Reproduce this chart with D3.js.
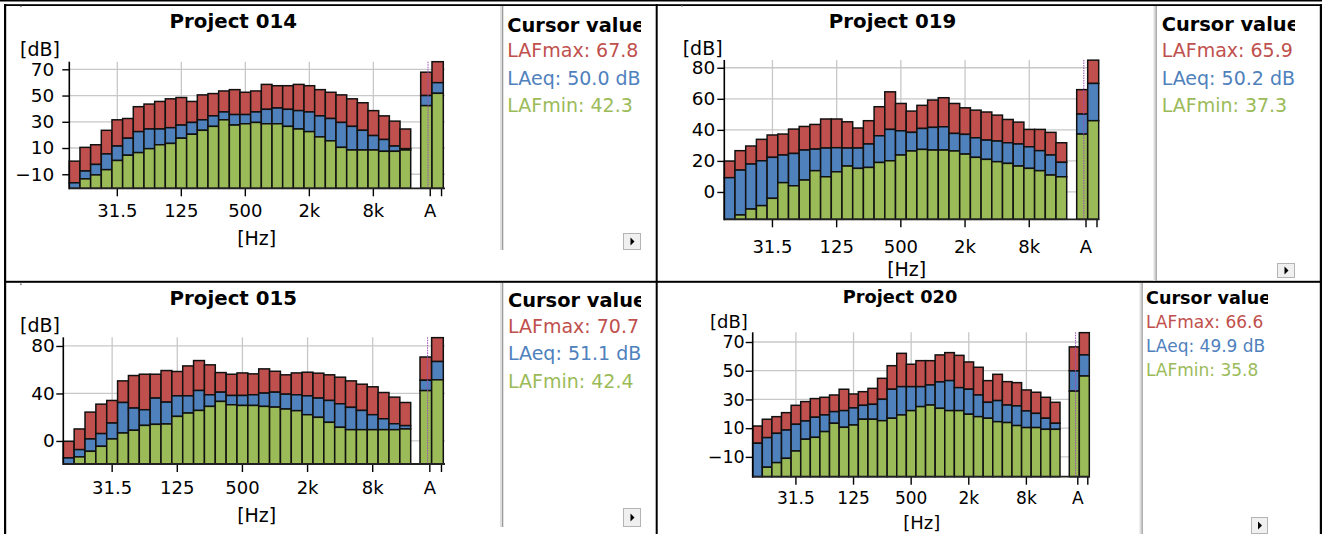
<!DOCTYPE html>
<html><head><meta charset="utf-8">
<script src="https://cdn.jsdelivr.net/npm/d3@7"></script>
<style>
body{margin:0;background:#fff}
svg{display:block}
text{font-family:"DejaVu Sans",Verdana,sans-serif}
</style>
</head><body>
<svg id="c" width="1322" height="534"></svg>
<script>
// ---------- DATA ----------
const bands = ["12.5","16","20","25","31.5","40","50","63","80","100","125","160","200","250","315","400","500","630","800","1k","1.25k","1.6k","2k","2.5k","3.15k","4k","5k","6.3k","8k","10k","12.5k","16k"];
const bandTicks = ["31.5","125","500","2k","8k"];
const totals = ["A","C"];
const totalLabels = ["A",""];

const p014Max = [0,10.5,12.5,23.5,31.5,32.5,41.5,43.5,45.5,47.5,48.5,45.5,50.5,51.5,53.5,54.5,52.5,53.5,58.5,57.5,57.5,58.5,57.5,54.5,52.5,50.5,47.5,44.5,38.5,34.5,30.5,24.5];
const p014Eq  = [-16.5,-7.5,-2.5,5.5,11.5,17.5,22.5,24.5,24.5,25.5,27.5,29.5,31.5,34.5,37.5,35.5,35.5,37.5,39.5,40.5,39.5,38.5,37.5,34.5,32.5,29.5,26.5,23.5,19.5,16.5,11.5,9.5];
const p014Min = [-22,-13.5,-10.5,-6.5,0.5,4.5,6.5,9.5,12.5,13.5,17.5,20.5,23.5,26.5,31.5,27.5,28.5,29.5,28.5,28.5,26.5,24.5,22.5,18.5,15.5,10.5,8.5,8.5,8.5,7.5,7.5,8.5];
const p014TotMax = [67.8,75.8];
const p014TotEq  = [50.0,59.8];
const p014TotMin = [42.3,51.7];

const p019Max = [19.9,26.6,29.6,33.9,36.7,37.3,40.5,42.2,43.5,47,47,45.2,41.2,45.9,54.9,64.5,57,52.1,55.8,59.2,60.7,57,54.2,52.7,51.5,49.5,46.7,45,40.3,40.3,38.4,31.7];
const p019Eq  = [9.2,14.1,18,20.1,22.3,23.8,24.8,27,27.6,28.3,28.5,28.3,28.3,30.9,36.2,40.3,39.4,38.4,40.9,41.6,42,37.7,37.1,34.9,33.4,32.8,31.7,30.9,29.1,26.6,23.8,19.1];
const p019Min = [-18,-14.8,-11,-8.8,-4.1,6,4,7.7,13.7,9.8,13,16.7,15.2,15.8,19,20.1,23.8,26.4,27.4,27,27,26.4,24.4,22.3,21,19.5,18.4,16.7,15.2,13.7,10.9,9.8];
const p019TotMax = [65.9,84.9];
const p019TotEq  = [50.2,69.9];
const p019TotMin = [37.3,45.9];

const p015Max = [-0.3,10.1,24.3,31,34.1,50.6,55.1,56.2,56.2,59.3,58.5,63.2,67.7,64.1,57.6,56.2,57.3,56.5,60.7,58.7,55.7,57.3,57.9,57.1,55.7,53.7,50.6,47.8,45.6,40.8,36.9,32.4];
const p015Eq  = [-14.3,-7.3,1.7,6.2,15.1,32.4,27.7,26.3,36.1,32.7,38,38,42.5,38.9,41.1,38.3,38.3,38.9,40.3,41.1,39.4,38.9,38,36.1,34.1,31.3,28.3,25.7,22.1,18.7,14.5,12.9];
const p015Min = [-20,-13.4,-8.7,-4.5,1.7,6.7,9,13.1,14,14.3,20.7,23.5,25.7,29.1,33.3,30.5,29.9,29.9,29.1,28.5,26.9,25.5,22.1,19.9,15.7,11.5,9.5,9.5,9.5,9.5,9.5,10.1];
const p015TotMax = [70.7,87.0];
const p015TotEq  = [51.1,66.9];
const p015TotMin = [42.4,51.5];

const p020Max = [11.5,16.2,18,20.8,25.9,28.5,30.6,31.5,33.1,37.1,33.8,35.4,37.7,44.7,53.5,62.1,54.5,57,57,61,62.6,60.7,56.1,52.4,43.1,47.5,42.4,41.7,36.6,35,31.5,28];
const p020Eq  = [-0.5,3.4,6.4,8.7,12.7,15,17.6,19.2,21.5,22.2,24.1,25.9,26.6,30.1,37.1,38.9,38.9,38.9,40.1,42.2,43.1,38.2,37.1,33.1,28,29.2,26.1,25.5,22,20.3,16.9,13.4];
const p020Min = [-25,-17.2,-14,-11,-5.9,2.3,3.6,7.6,13.4,10.6,12.2,16.2,16.2,15.2,16.9,19.2,22.2,25,26.1,23.8,22.2,22.2,19.7,18,16.9,14.5,13.9,11.8,10.4,10.4,9.2,9.2];
const p020TotMax = [66.6,76.5];
const p020TotEq  = [49.9,61.0];
const p020TotMin = [35.8,46.3];

const yTicks014 = [-10,10,30,50,70];
const yTicks019 = [0,20,40,60,80];
const yTicks015 = [0,40,80];
const yTicks020 = [-10,10,30,50,70];

// ---------- STYLE ----------
const C_MAX = "#c0504d", C_EQ = "#4f81bd", C_MIN = "#9bbb59";
const svg = d3.select("#c");

// ---------- FRAME ----------
const frame = svg.append("g");
[[0,0,1322,1.5],[4,4.2,1318,1.8],[4,4,2.2,530],[655.7,4,2,530],[4,280.8,1318,2],[1319.8,4,2.2,530]]
  .forEach(r=>frame.append("rect").attr("x",r[0]).attr("y",r[1]).attr("width",r[2]).attr("height",r[3]).attr("fill","#000"));
[[20.3,5.5],[681.3,5],[20.3,283.5]].forEach(p=>frame.append("rect").attr("x",p[0]).attr("y",p[1]).attr("width",1.2).attr("height",1.6).attr("fill","#555"));

// ---------- PANELS ----------
const panels = [
 {title:"Project 014", fs:18, tfs:19.8, cfs:19, cbfs:19.4,
  x0:69.3, x1:410.7, a0:420.7, a1:443.3, gridR:445, yTop:61.7, yBot:188.3, dom:[-20.7,75.8], ticks:yTicks014,
  ylPad:8, xlPad:8.4, titleX:233.3, titleY:27.5, dbX:20, dbY:56, hzX:256.7, hzY:245,
  sepX:500, sepY0:6, sepY1:250, btn:[623,233,18,17],
  cx:507.3, cy:[31.7,57.3,84.5,111.7], clipR:641,
  cur:["Cursor value","LAFmax: 67.8","LAeq: 50.0 dB","LAFmin: 42.3"],
  max:p014Max, eq:p014Eq, min:p014Min, tmax:p014TotMax, teq:p014TotEq, tmin:p014TotMin},
 {title:"Project 019", fs:18, tfs:19.8, cfs:19, cbfs:19.4,
  x0:724.3, x1:1066.7, a0:1076.7, a1:1098.7, gridR:1099.3, yTop:60, yBot:219.3, dom:[-17.6,85], ticks:yTicks019,
  ylPad:2, xlPad:12.9, titleX:892.5, titleY:28.3, dbX:682.7, dbY:54.5, hzX:906.7, hzY:276,
  sepX:1153.5, sepY0:6, sepY1:281, btn:[1277,263,18,15],
  cx:1161.7, cy:[30.7,57.3,85,111.7], clipR:1295,
  cur:["Cursor value","LAFmax: 65.9","LAeq: 50.2 dB","LAFmin: 37.3"],
  max:p019Max, eq:p019Eq, min:p019Min, tmax:p019TotMax, teq:p019TotEq, tmin:p019TotMin},
 {title:"Project 015", fs:18, tfs:19.8, cfs:19, cbfs:19.4,
  x0:63.3, x1:410.7, a0:420, a1:443.3, gridR:445, yTop:337.3, yBot:464, dom:[-19.4,87.3], ticks:yTicks015,
  ylPad:1.5, xlPad:9.7, titleX:233.3, titleY:305, dbX:20, dbY:331.5, hzX:256.7, hzY:522,
  sepX:500, sepY0:283, sepY1:527, btn:[623,508,18,19],
  cx:508, cy:[307,333,360,388], clipR:641,
  cur:["Cursor value","LAFmax: 70.7","LAeq: 51.1 dB","LAFmin: 42.4"],
  max:p015Max, eq:p015Eq, min:p015Min, tmax:p015TotMax, teq:p015TotEq, tmin:p015TotMin},
 {title:"Project 020", fs:17, tfs:17.8, cfs:17, cbfs:17.6,
  x0:752.7, x1:1060, a0:1069.3, a1:1089.3, gridR:1090, yTop:332.3, yBot:476.7, dom:[-23.8,76.75], ticks:yTicks020,
  ylPad:1, xlPad:7.2, titleX:900, titleY:302.7, dbX:710, dbY:328, hzX:921.7, hzY:529,
  sepX:1139.5, sepY0:283, sepY1:534, btn:[1251,517,17,17],
  cx:1146, cy:[304,328,352,376], clipR:1268,
  cur:["Cursor value","LAFmax: 66.6","LAeq: 49.9 dB","LAFmin: 35.8"],
  max:p020Max, eq:p020Eq, min:p020Min, tmax:p020TotMax, teq:p020TotEq, tmin:p020TotMin}
];

panels.forEach((p,pi)=>{
  const g = svg.append("g");
  const y = d3.scaleLinear().domain(p.dom).range([p.yBot, p.yTop]);
  const xb = d3.scaleBand().domain(bands).range([p.x0, p.x1]).padding(0);
  const xt = d3.scaleBand().domain(totals).range([p.a0, p.a1]).padding(0);
  const bw = xt.bandwidth();
  const xtTick = d3.scalePoint().domain(totals).range([p.a0 + 0.8*bw, p.a0 + 1.8*bw]);

  // horizontal grid
  g.append("g").selectAll("line").data(p.ticks).join("line")
    .attr("x1", p.x0).attr("x2", p.gridR).attr("y1", d=>y(d)).attr("y2", d=>y(d))
    .attr("stroke","#c8c8c8").attr("stroke-width",1.3);
  // vertical grid
  g.append("g").selectAll("line").data(bandTicks).join("line")
    .attr("x1", d=>xb(d)+xb.bandwidth()/2).attr("x2", d=>xb(d)+xb.bandwidth()/2)
    .attr("y1", p.yTop).attr("y2", p.yBot)
    .attr("stroke","#c8c8c8").attr("stroke-width",1.3);

  // bars
  const lo = p.dom[0];
  const rows = bands.map((b,i)=>({x:xb(b), w:xb.bandwidth(), max:p.max[i], eq:p.eq[i], min:p.min[i]}))
    .concat(totals.map((t,i)=>({x:xt(t), w:bw, max:p.tmax[i], eq:p.teq[i], min:p.tmin[i]})));
  const segs = [];
  rows.forEach(r=>{
    const mx = Math.max(r.max, lo), eq = Math.max(r.eq, lo), mn = Math.max(r.min, lo);
    segs.push({x:r.x, w:r.w, top:y(mx), bot:y(eq), c:C_MAX});
    segs.push({x:r.x, w:r.w, top:y(eq), bot:y(mn), c:C_EQ});
    segs.push({x:r.x, w:r.w, top:y(mn), bot:y(lo), c:C_MIN});
  });
  g.append("g").selectAll("rect").data(segs.filter(s=>s.bot-s.top>0.01)).join("rect")
    .attr("x", s=>s.x).attr("y", s=>s.top).attr("width", s=>s.w).attr("height", s=>s.bot-s.top)
    .attr("fill", s=>s.c).attr("stroke","#111").attr("stroke-width",1.5);

  // cursor line
  g.append("line").attr("x1", xtTick("A")-1.7).attr("x2", xtTick("A")-1.7)
    .attr("y1", p.yTop).attr("y2", p.yBot)
    .attr("stroke","#9a4fb0").attr("stroke-width",1).attr("stroke-dasharray","1.5,1");

  // y axis
  const ya = g.append("g").attr("transform",`translate(${p.x0},0)`)
    .call(d3.axisLeft(y).tickValues(p.ticks).tickSize(7).tickPadding(p.ylPad).tickSizeOuter(0));
  ya.select(".domain").remove();
  ya.selectAll("line").attr("stroke","#000").attr("stroke-width",1.4);
  ya.selectAll("text").attr("font-size",p.fs+0.5).attr("font-family","DejaVu Sans").attr("fill","#000");
  g.append("line").attr("x1",p.x0).attr("x2",p.x0).attr("y1",p.yTop).attr("y2",p.yBot+1)
    .attr("stroke","#000").attr("stroke-width",1.6);

  // x axes
  const xa = g.append("g").attr("transform",`translate(0,${p.yBot})`)
    .call(d3.axisBottom(xb).tickValues(bandTicks).tickSize(8).tickPadding(p.xlPad).tickSizeOuter(0));
  const xa2 = g.append("g").attr("transform",`translate(0,${p.yBot})`)
    .call(d3.axisBottom(xtTick).tickValues(totals).tickFormat(d=>totalLabels[totals.indexOf(d)]).tickSize(8).tickPadding(p.xlPad).tickSizeOuter(0));
  [xa,xa2].forEach(a=>{
    a.select(".domain").remove();
    a.selectAll("line").attr("stroke","#000").attr("stroke-width",1.4);
    a.selectAll("text").attr("font-size",p.fs).attr("font-family","DejaVu Sans").attr("fill","#000");
  });
  g.append("line").attr("x1",p.x0).attr("x2",p.gridR).attr("y1",p.yBot).attr("y2",p.yBot)
    .attr("stroke","#222").attr("stroke-width",1.8);

  // titles / units
  g.append("text").attr("x",p.titleX).attr("y",p.titleY).attr("text-anchor","middle")
    .attr("font-size",p.tfs).attr("font-weight","bold").text(p.title);
  g.append("text").attr("x",p.dbX).attr("y",p.dbY).attr("font-size",p.fs+1).text("[dB]");
  g.append("text").attr("x",p.hzX).attr("y",p.hzY).attr("text-anchor","middle").attr("font-size",p.fs+1).text("[Hz]");

  // separator
  g.append("rect").attr("x",p.sepX).attr("y",p.sepY0).attr("width",2).attr("height",p.sepY1-p.sepY0).attr("fill","#dedede");
  g.append("rect").attr("x",p.sepX+2).attr("y",p.sepY0).attr("width",1.3).attr("height",p.sepY1-p.sepY0).attr("fill","#9c9c9c");

  // cursor values (clipped)
  const cid = "clip"+pi;
  svg.append("clipPath").attr("id",cid).append("rect")
    .attr("x",p.sepX+3).attr("y",p.sepY0).attr("width",p.clipR-p.sepX-3).attr("height",p.sepY1-p.sepY0);
  const cg = g.append("g").attr("clip-path",`url(#${cid})`);
  const ccols = ["#000",C_MAX,C_EQ,C_MIN];
  p.cur.forEach((t,i)=>{
    cg.append("text").attr("x",p.cx).attr("y",p.cy[i]).attr("font-size", i===0?p.cbfs:p.cfs)
      .attr("font-weight", i===0?"bold":"normal").attr("fill",ccols[i]).text(t);
  });

  // scroll button
  const [bx,by,bwid,bh] = p.btn;
  g.append("rect").attr("x",bx+0.5).attr("y",by+0.5).attr("width",bwid-1).attr("height",bh-1)
    .attr("fill","#f0f0f0").attr("stroke","#b4b4b4").attr("stroke-width",1);
  const cxm = bx+bwid/2, cym = by+bh/2;
  g.append("path").attr("d",`M${cxm-1.5},${cym-4}L${cxm+2.5},${cym}L${cxm-1.5},${cym+4}Z`).attr("fill","#000");
});
</script>
</body></html>
